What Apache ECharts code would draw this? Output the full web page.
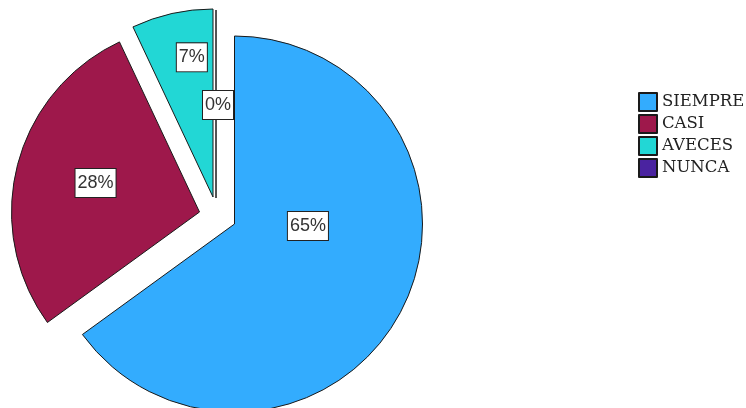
<!DOCTYPE html>
<html>
<head>
<meta charset="utf-8">
<script src="https://cdn.jsdelivr.net/npm/echarts@6/dist/echarts.min.js"></script>
<style>
html,body{margin:0;padding:0;background:#fff;}
#chart{width:746px;height:408px;}
</style>
</head>
<body>
<div id="chart"></div>
<script>
// ---- data ----
var categories = ['SIEMPRE', 'CASI', 'AVECES', 'NUNCA'];
var values = [65, 28, 7, 0];
var percentLabels = ['65%', '28%', '7%', '0%'];

// ---- style / layout (not data) ----
var colors = ['#33acfe', '#9e184b', '#22d7d5', '#4a23a0'];
var baseCenter = [234.5, 224];
var explode = [[0, 0], [-35, -12], [-21.5, -27], [-18.5, -26]];
var labelShift = [[-13, -42], [-10, -5], [0, -45], [2, 4]];
var radius = 188;

var total = values.reduce(function (a, b) { return a + b; }, 0);
var chart = echarts.init(document.getElementById('chart'), null, {renderer: 'canvas'});

var series = [];
var cum = 0;
categories.forEach(function (name, i) {
  var startAngle = 90 - 360 * cum / total;
  cum += values[i];
  var shift = labelShift[i];
  series.push({
    type: 'pie',
    name: name,
    center: [baseCenter[0] + explode[i][0], baseCenter[1] + explode[i][1]],
    radius: radius,
    startAngle: startAngle,
    clockwise: true,
    minAngle: 0,
    avoidLabelOverlap: false,
    animation: false,
    silent: true,
    emphasis: {disabled: true},
    itemStyle: {color: colors[i], borderColor: '#1a1a1a', borderWidth: 1},
    label: {
      show: true,
      position: 'inside',
      formatter: function () { return percentLabels[i]; },
      fontFamily: '"Liberation Sans", sans-serif',
      fontSize: 18,
      color: '#333',
      backgroundColor: '#fff',
      borderColor: '#222',
      borderWidth: 1,
      padding: [3, 2, 3, 2],
      lineHeight: 22
    },
    labelLine: {show: false},
    labelLayout: function (p) {
      return p.dataIndex === 0 ? {dx: shift[0], dy: shift[1]} : {};
    },
    data: [
      {name: name, value: values[i]},
      {name: '', value: total - values[i],
       itemStyle: {color: 'rgba(0,0,0,0)', borderWidth: 0},
       label: {show: false}}
    ]
  });
});

chart.setOption({
  backgroundColor: '#fff',
  legend: {
    orient: 'vertical',
    left: 638,
    top: 92,
    padding: 0,
    data: categories,
    icon: 'rect',
    itemWidth: 18,
    itemHeight: 18,
    itemGap: 2,
    selectedMode: false,
    textStyle: {fontFamily: 'DejaVu Serif', fontSize: 16.5, lineHeight: 18, color: '#222', padding: [0, 0, 0, 0]}
  },
  series: series
});
</script>
</body>
</html>
